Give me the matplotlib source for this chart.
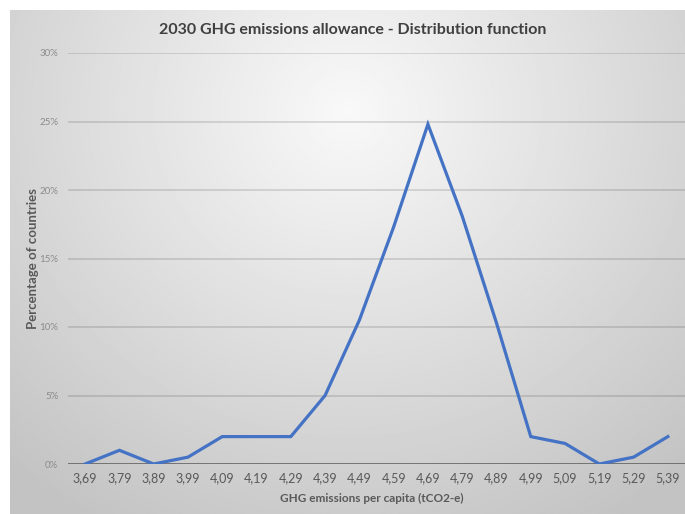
import numpy as np
import matplotlib
matplotlib.use("Agg")
import matplotlib.pyplot as plt

# emissions bins (tCO2-e per capita) and share of countries (%)
categories = ["3,69", "3,79", "3,89", "3,99", "4,09", "4,19", "4,29", "4,39", "4,49",
              "4,59", "4,69", "4,79", "4,89", "4,99", "5,09", "5,19", "5,29", "5,39"]
share = [0, 1.0, 0, 0.5, 2.0, 2.0, 2.0, 5.0, 10.5,
         17.3, 24.8, 18.1, 10.3, 2.0, 1.5, 0, 0.5, 2.0]
y_ticks = [0, 5, 10, 15, 20, 25, 30]

plt.rcParams['font.family'] = ['Lato', 'DejaVu Sans']

W, H = 685, 514
fig = plt.figure(figsize=(W / 100, H / 100), dpi=100)

# radial gradient background (chart area)
bg = fig.add_axes([10 / W, 0, (W - 10) / W, (H - 10) / H], zorder=0)
gx, gy = np.meshgrid(np.linspace(0, 1, 400), np.linspace(0, 1, 300))
d = np.sqrt(((gx - 0.5) / 0.75) ** 2 + ((gy - 0.2) / 0.95) ** 2)
shade = 0.975 - 0.21 * np.clip(d, 0, 1)
bg.imshow(shade, cmap='gray', vmin=0, vmax=1, aspect='auto', extent=[0, 1, 1, 0])
bg.set_xlim(0, 1)
bg.set_ylim(1, 0)
bg.axis('off')

ax = fig.add_axes([68 / W, 50 / H, (W - 68) / W, 411 / H], zorder=1)
ax.patch.set_alpha(0)
x = np.arange(len(categories))
ax.plot(x, share, color='#4472C4', lw=2.3, solid_joinstyle='miter', zorder=3)

ax.set_xlim(-0.5, len(categories) - 0.5)
ax.set_ylim(0, 30)
ax.set_yticks(y_ticks)
ax.set_yticklabels([f"{v}%" for v in y_ticks], fontsize=7, color='#8c8c8c')
ax.set_xticks(x)
ax.set_xticklabels(categories, fontsize=9, color='#595959')
ax.tick_params(axis='x', length=0, pad=6)
ax.tick_params(axis='y', length=0, pad=7)
for v in y_ticks[1:]:
    ax.axhline(v, color='black', alpha=0.14, lw=1.2, zorder=1)
ax.axhline(0, color='#595959', lw=1.8, zorder=2)
for s in ax.spines.values():
    s.set_visible(False)

ax.set_xlabel("GHG emissions per capita (tCO2-e)", fontsize=8.5, fontweight='bold',
              color='#595959')
ax.xaxis.set_label_coords((372 - 68) / (W - 68), -(493 - 464) / 411)
ax.set_ylabel("Percentage of countries", fontsize=9.5, fontweight='bold',
              color='#595959', va='center')
ax.yaxis.set_label_coords((33 - 68) / (W - 68), (464 - 259) / 411)

fig.text(353 / W, 1 - 30 / H, "2030 GHG emissions allowance - Distribution function",
         ha='center', va='center', fontsize=11.5, fontweight='bold', color='#404040')

fig.savefig("out.png", dpi=100)
